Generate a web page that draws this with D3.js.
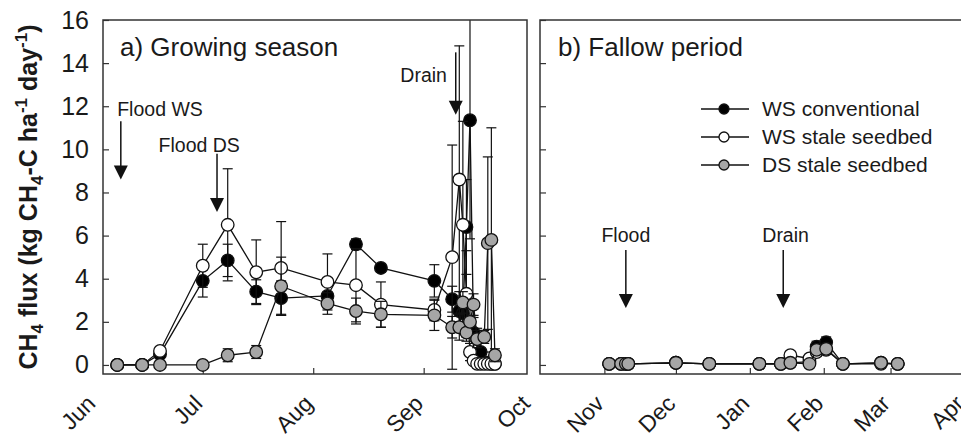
<!DOCTYPE html>
<html lang="en">
<head>
  <meta charset="UTF-8">
  <title>CH4 flux</title>
  <style>
    body {
      margin: 0;
      background: #fff;
    }
    svg {
      display: block;
      font-family: "Liberation Sans", Arial, sans-serif;
    }
    .frame {
      fill: none;
      stroke: #333;
      stroke-width: 1.5;
    }
    .axis path.domain {
      display: none;
    }
    .axis line {
      stroke: #333;
      stroke-width: 1.2;
    }
    .axis text {
      fill: #1a1a1a;
      font-size: 25px;
    }
    .axis--x .mlabel {
      font-size: 23px;
      text-anchor: end;
    }
    .flux {
      fill: none;
      stroke: #111;
      stroke-width: 1.3;
    }
    .err {
      stroke: #111;
      stroke-width: 1.2;
    }
    .dot {
      stroke: #111;
      stroke-width: 1.3;
    }
    .note {
      font-size: 19.5px;
      fill: #1a1a1a;
      text-anchor: middle;
    }
    .arrow line {
      stroke: #111;
      stroke-width: 1.5;
    }
    .panelTitle {
      font-size: 26px;
      fill: #1a1a1a;
    }
    .legend text {
      font-size: 21px;
      fill: #1a1a1a;
    }
    .ylabel {
      font-size: 25px;
      font-weight: bold;
      fill: #1a1a1a;
      text-anchor: middle;
    }
  </style>
  <script src="https://d3js.org/d3.v7.min.js"></script>
</head>
<body>
  <div id="chart"></div>
  <script>
/* global d3 */

// a) growing season
var gsDatesWSConv = ["2010-06-07","2010-06-14","2010-06-19","2010-07-01","2010-07-08","2010-07-16","2010-07-23","2010-08-05","2010-08-13","2010-08-20","2010-09-04",
  "2010-09-09","2010-09-11","2010-09-12","2010-09-13","2010-09-14","2010-09-15","2010-09-16","2010-09-17","2010-09-19","2010-09-20","2010-09-21"];
var gsFluxWSConv = [0, 0, 0.5, 3.9, 4.85, 3.4, 3.1, 3.2, 5.6, 4.5, 3.9,
  3.05, 2.5, 2.4, 6.4, 11.35, 1.5, 1.2, 0.6, 0.1, 0.05, 0.05];
var gsErrWSConv = [0, 0, 0.2, 0.75, 0.75, 0.55, 0.8, 0.5, 0.25, 0.2, 0.75,
  0.6, 0.9, 0.8, 2.2, 5.5, 0.7, 0.5, 0.4, 0.1, 0.05, 0.05];

var gsDatesWSStale = ["2010-06-07","2010-06-14","2010-06-19","2010-07-01","2010-07-08","2010-07-16","2010-07-23","2010-08-05","2010-08-13","2010-08-20","2010-09-04",
  "2010-09-09","2010-09-11","2010-09-12","2010-09-13","2010-09-14","2010-09-15","2010-09-16","2010-09-17","2010-09-18","2010-09-19","2010-09-20","2010-09-21"];
var gsFluxWSStale = [0, 0, 0.65, 4.6, 6.5, 4.3, 4.5, 3.85, 3.7, 2.8, 2.55,
  5.0, 8.6, 6.5, 3.3, 0.6, 0.2, 0.05, 0.05, 0.05, 0.05, 0.05, 0.05];
var gsErrWSStale = [0, 0, 0.15, 1.0, 2.6, 1.5, 2.15, 1.3, 1.7, 1.05, 0.5,
  5.2, 6.2, 4.8, 2.0, 0.4, 0.1, 0.05, 0.05, 0.05, 0.05, 0.05, 0.05];

var gsDatesDSStale = ["2010-06-07","2010-06-14","2010-06-19","2010-07-01","2010-07-08","2010-07-16","2010-07-23","2010-08-05","2010-08-13","2010-08-20","2010-09-04",
  "2010-09-09","2010-09-11","2010-09-12","2010-09-13","2010-09-14","2010-09-15","2010-09-16","2010-09-18","2010-09-19","2010-09-20","2010-09-21"];
var gsFluxDSStale = [0, 0, 0, 0, 0.45, 0.6, 3.65, 2.85, 2.5, 2.35, 2.3,
  1.75, 1.75, 2.9, 1.5, 2.0, 2.8, 1.2, 1.3, 5.65, 5.8, 0.45];
var gsErrDSStale = [0, 0, 0, 0, 0.3, 0.3, 1.35, 0.5, 0.6, 0.6, 0.7,
  0.5, 0.6, 0.5, 0.4, 0.6, 0.5, 0.4, 0.3, 4.0, 5.2, 0.3];

// b) fallow period
var fpDates = ["2010-11-03","2010-11-08","2010-11-10","2010-11-11","2010-12-01","2010-12-15","2011-01-05","2011-01-14",
  "2011-01-18","2011-01-26","2011-01-29","2011-02-02","2011-02-09","2011-02-25","2011-03-04"];
var fpFluxWSConv = [0.05, 0.05, 0.05, 0.05, 0.1, 0.05, 0.05, 0.05, 0.1, 0.15, 0.85, 1.05, 0.05, 0.1, 0.05];
var fpErrWSConv = [0, 0, 0, 0, 0.05, 0, 0, 0, 0.05, 0.1, 0.25, 0.25, 0.05, 0.05, 0];
var fpFluxWSStale = [0.05, 0.05, 0.05, 0.05, 0.1, 0.05, 0.05, 0.05, 0.45, 0.3, 0.6, 0.7, 0.05, 0.05, 0.05];
var fpErrWSStale = [0, 0, 0, 0, 0.05, 0, 0, 0.05, 0.15, 0.1, 0.2, 0.2, 0.05, 0.05, 0];
var fpFluxDSStale = [0.05, 0.05, 0.05, 0.05, 0.1, 0.05, 0.05, 0.05, 0.1, 0.05, 0.7, 0.75, 0.05, 0.1, 0.05];
var fpErrDSStale = [0, 0, 0, 0, 0.05, 0, 0, 0, 0.05, 0.05, 0.15, 0.15, 0.05, 0.05, 0];

var seriesNames = ["WS conventional", "WS stale seedbed", "DS stale seedbed"];
var seriesFills = ["#000", "#fff", "#a6a6a6"];

var yTicks = [0, 2, 4, 6, 8, 10, 12, 14, 16];

// event arrows
var gsNotes = ["Flood WS", "Flood DS", "Drain"];
var gsArrowDates = ["2010-06-08", "2010-07-05", "2010-09-10"];
var gsNoteDates = ["2010-06-19", "2010-06-30", "2010-09-01"];
var gsNoteFlux = [11.85, 10.2, 13.45];
var gsArrowTop = [11.3, 9.8, 14.5];
var gsArrowTip = [8.6, 7.1, 11.6];

var fpNotes = ["Flood", "Drain"];
var fpArrowDates = ["2010-11-10", "2011-01-15"];
var fpNoteDates = ["2010-11-10", "2011-01-16"];
var fpNoteFlux = [6.03, 6.03];
var fpArrowTop = [5.33, 5.33];
var fpArrowTip = [2.64, 2.64];

var parse = d3.timeParse("%Y-%m-%d");
var fmtMonth = d3.timeFormat("%b");

var width = 961,
  height = 438,
  plotTop = 20,
  plotBottom = 374;

var svg = d3.select("#chart")
  .append("svg")
  .attr("width", width)
  .attr("height", height);

var y = d3.scaleLinear().domain([-0.42, 16]).range([plotBottom, plotTop]);

var xA = d3.scaleTime()
  .domain([parse("2010-06-03"), parse("2010-09-30")])
  .range([103, 527]);
var xB = d3.scaleTime()
  .domain([parse("2010-10-05"), parse("2011-04-05")])
  .range([540, 974]);

function rows(dates, flux, err) {
  return dates.map(function (d, i) {
    return {date: parse(d), flux: flux[i], err: err[i]};
  });
}

function drawPanel(id, x, months, series, showLabels, notes) {
  var left = x.range()[0], right = x.range()[1];
  var g = svg.append("g").attr("class", "panel");

  svg.append("clipPath")
    .attr("id", "clip" + id)
    .append("rect")
    .attr("x", left)
    .attr("y", plotTop)
    .attr("width", right - left)
    .attr("height", plotBottom - plotTop);

  g.append("g")
    .attr("class", "axis axis--y")
    .attr("transform", "translate(" + left + ",0)")
    .call(d3.axisLeft(y)
      .tickValues(yTicks)
      .tickSizeInner(-6)
      .tickSizeOuter(0)
      .tickPadding(14)
      .tickFormat(showLabels ? d3.format("d") : function () { return ""; }));

  var gx = g.append("g")
    .attr("class", "axis axis--x")
    .attr("transform", "translate(0," + plotBottom + ")")
    .call(d3.axisBottom(x)
      .tickValues(months)
      .tickSizeInner(-6)
      .tickSizeOuter(0)
      .tickFormat(fmtMonth));

  // month ticks falling outside the frame keep only their label
  gx.selectAll(".tick line")
    .filter(function (d) { return x(d) <= left + 1 || x(d) >= right - 1; })
    .remove();

  // slanted month labels
  gx.selectAll(".tick text").remove();
  gx.selectAll(".mlabel")
    .data(months)
    .enter()
    .append("text")
    .attr("class", "mlabel")
    .attr("transform", function (d) {
      return "translate(" + (x(d) + 1) + ",31) rotate(-45)";
    })
    .text(fmtMonth);

  var plot = g.append("g").attr("clip-path", "url(#clip" + id + ")");

  var line = d3.line()
    .x(function (d) { return x(d.date); })
    .y(function (d) { return y(d.flux); });

  series.forEach(function (s, k) {
    var sg = plot.append("g").attr("class", "series");
    var withErr = s.filter(function (d) { return d.err > 0; });

    var eb = sg.selectAll(".err")
      .data(withErr)
      .enter()
      .append("g")
      .attr("class", "err");
    eb.append("line")
      .attr("x1", function (d) { return x(d.date); })
      .attr("x2", function (d) { return x(d.date); })
      .attr("y1", function (d) { return y(d.flux - d.err); })
      .attr("y2", function (d) { return y(d.flux + d.err); });
    eb.append("line")
      .attr("x1", function (d) { return x(d.date) - 5; })
      .attr("x2", function (d) { return x(d.date) + 5; })
      .attr("y1", function (d) { return y(d.flux + d.err); })
      .attr("y2", function (d) { return y(d.flux + d.err); });
    eb.append("line")
      .attr("x1", function (d) { return x(d.date) - 5; })
      .attr("x2", function (d) { return x(d.date) + 5; })
      .attr("y1", function (d) { return y(d.flux - d.err); })
      .attr("y2", function (d) { return y(d.flux - d.err); });

    sg.append("path")
      .datum(s)
      .attr("class", "flux")
      .attr("d", line);

    sg.selectAll(".dot")
      .data(s)
      .enter()
      .append("circle")
      .attr("class", "dot")
      .attr("cx", function (d) { return x(d.date); })
      .attr("cy", function (d) { return y(d.flux); })
      .attr("r", 6.3)
      .style("fill", seriesFills[k]);
  });

  // arrows
  var ar = g.selectAll(".arrow")
    .data(notes)
    .enter()
    .append("g")
    .attr("class", "arrow");
  ar.append("line")
    .attr("x1", function (d) { return x(d.date); })
    .attr("x2", function (d) { return x(d.date); })
    .attr("y1", function (d) { return y(d.top); })
    .attr("y2", function (d) { return y(d.tip) - 12; });
  ar.append("path")
    .attr("d", function (d) {
      var ax = x(d.date), ay = y(d.tip);
      return "M" + (ax - 7) + "," + (ay - 14) + "L" + (ax + 7) + "," + (ay - 14) + "L" + ax + "," + ay + "Z";
    })
    .style("fill", "#111");
  ar.append("text")
    .attr("class", "note")
    .attr("x", function (d) { return x(d.labelDate); })
    .attr("y", function (d) { return y(d.labelFlux); })
    .attr("dy", "0.35em")
    .text(function (d) { return d.text; });

  g.append("rect")
    .attr("class", "frame")
    .attr("x", left)
    .attr("y", plotTop)
    .attr("width", right - left)
    .attr("height", plotBottom - plotTop);

  return g;
}

function notesOf(texts, dates, labelDates, labelFlux, tops, tips) {
  return texts.map(function (t, i) {
    return {text: t, date: parse(dates[i]), labelDate: parse(labelDates[i]),
      labelFlux: labelFlux[i], top: tops[i], tip: tips[i]};
  });
}

var gA = drawPanel("A", xA,
  d3.timeMonth.range(parse("2010-06-01"), parse("2010-10-02")),
  [rows(gsDatesWSConv, gsFluxWSConv, gsErrWSConv),
    rows(gsDatesWSStale, gsFluxWSStale, gsErrWSStale),
    rows(gsDatesDSStale, gsFluxDSStale, gsErrDSStale)],
  true,
  notesOf(gsNotes, gsArrowDates, gsNoteDates, gsNoteFlux, gsArrowTop, gsArrowTip));

var gB = drawPanel("B", xB,
  d3.timeMonth.range(parse("2010-11-01"), parse("2011-04-02")),
  [rows(fpDates, fpFluxWSConv, fpErrWSConv),
    rows(fpDates, fpFluxWSStale, fpErrWSStale),
    rows(fpDates, fpFluxDSStale, fpErrDSStale)],
  false,
  notesOf(fpNotes, fpArrowDates, fpNoteDates, fpNoteFlux, fpArrowTop, fpArrowTip));

gA.append("text")
  .attr("class", "panelTitle")
  .attr("x", 120)
  .attr("y", 56)
  .text("a) Growing season");

gB.append("text")
  .attr("class", "panelTitle")
  .attr("x", 558)
  .attr("y", 56)
  .text("b) Fallow period");

// legend
var legend = gB.append("g")
  .attr("class", "legend")
  .attr("transform", "translate(701,109)");

var item = legend.selectAll(".item")
  .data(seriesNames)
  .enter()
  .append("g")
  .attr("class", "item")
  .attr("transform", function (d, i) { return "translate(0," + (i * 28) + ")"; });
item.append("line")
  .attr("x1", 0)
  .attr("x2", 48)
  .style("stroke", "#111")
  .style("stroke-width", 1.3);
item.append("circle")
  .attr("class", "dot")
  .attr("cx", 23)
  .attr("r", 5)
  .style("fill", function (d, i) { return seriesFills[i]; });
item.append("text")
  .attr("x", 61)
  .attr("dy", "0.35em")
  .text(function (d) { return d; });

// y axis title
var yl = svg.append("text")
  .attr("class", "ylabel")
  .attr("transform", "translate(37,197) rotate(-90)");
yl.append("tspan").text("CH");
yl.append("tspan").attr("dy", 6).style("font-size", "17px").text("4");
yl.append("tspan").attr("dy", -6).text(" flux (kg CH");
yl.append("tspan").attr("dy", 6).style("font-size", "17px").text("4");
yl.append("tspan").attr("dy", -6).text("-C ha");
yl.append("tspan").attr("dy", -10).style("font-size", "17px").text("-1");
yl.append("tspan").attr("dy", 10).text(" day");
yl.append("tspan").attr("dy", -10).style("font-size", "17px").text("-1");
yl.append("tspan").attr("dy", 10).text(")");

  </script>
</body>
</html>
